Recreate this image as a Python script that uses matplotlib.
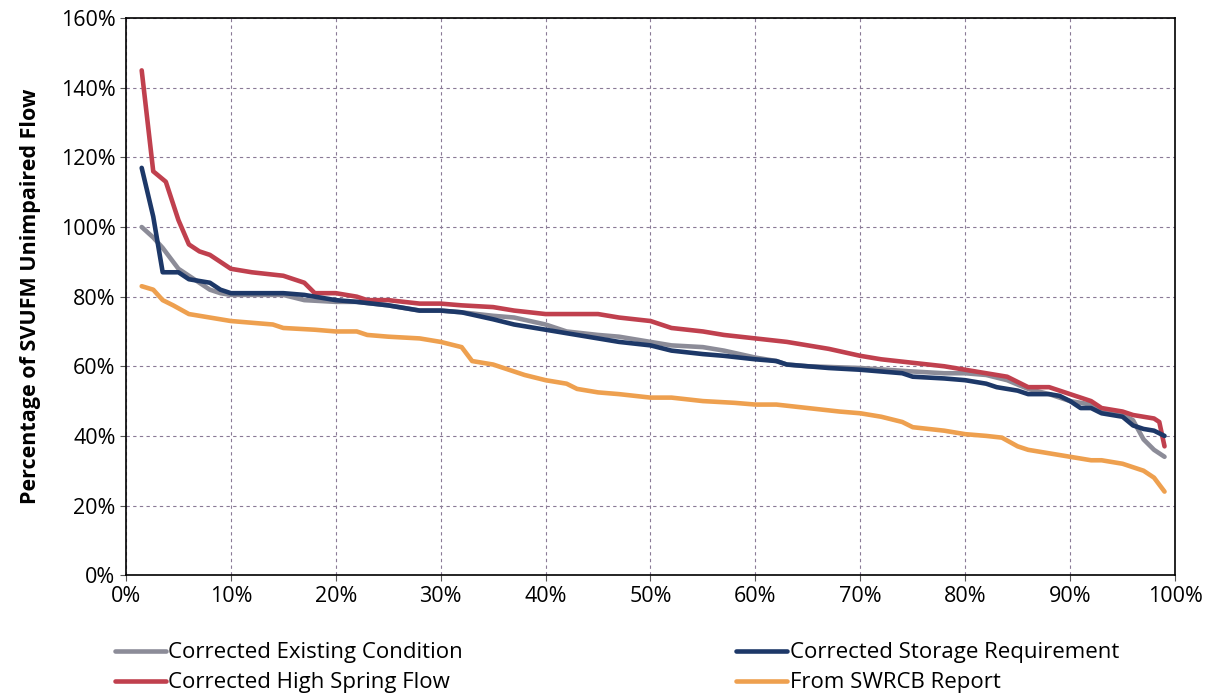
import matplotlib.pyplot as plt
from matplotlib.ticker import FuncFormatter, MultipleLocator

# exceedance (% of years) vs. percentage of SVUFM unimpaired flow
existing_x = [1.5, 2.6, 3.5, 5, 6, 7, 8, 9, 10, 15, 17, 20, 22, 25, 28, 30, 32, 35, 37, 40,
              42, 45, 47, 50, 52, 55, 57, 60, 62, 63, 65, 70, 75, 78, 80, 82, 84, 86, 88, 90,
              92, 93, 95, 96, 97, 98, 99]
existing_y = [100, 97, 94, 88, 86, 84, 82, 81, 80.5, 80.5, 79, 78.5, 78.5, 77.5, 76, 76, 75.5,
              74.5, 74, 72, 70, 69, 68.5, 67, 66, 65.5, 64.5, 62.5, 61.5, 60.5, 60, 59.5, 58.5,
              58, 58, 57.5, 56, 53.5, 52, 50, 49, 47, 46, 44.5, 39, 36, 34]

storage_x = [1.5, 2.6, 3.5, 5, 6, 8, 9, 10, 12, 15, 17, 18, 20, 22, 25, 28, 30, 32, 35, 37,
             40, 42, 45, 47, 50, 52, 55, 57, 60, 62, 63, 65, 67, 70, 72, 74, 75, 78, 80, 82,
             83, 84, 85, 86, 88, 89, 90, 91, 92, 93, 95, 96, 97, 98, 99]
storage_y = [117, 103, 87, 87, 85, 84, 82, 81, 81, 81, 80.5, 80, 79, 78.5, 77.5, 76, 76, 75.5,
             73.5, 72, 70.5, 69.5, 68, 67, 66, 64.5, 63.5, 63, 62, 61.5, 60.5, 60, 59.5, 59,
             58.5, 58, 57, 56.5, 56, 55, 54, 53.5, 53, 52, 52, 51.5, 50, 48, 48, 46.5, 45.5,
             43, 42, 41.5, 40]

spring_x = [1.5, 2.6, 3.8, 5, 6, 7, 8, 9, 10, 12, 15, 17, 18, 20, 22, 23, 25, 28, 30, 32, 35,
            37, 40, 42, 45, 47, 50, 52, 55, 57, 60, 63, 65, 67, 70, 72, 75, 78, 80, 82, 84, 86,
            88, 90, 92, 93, 95, 96, 98, 98.5, 99]
spring_y = [145, 116, 113, 102, 95, 93, 92, 90, 88, 87, 86, 84, 81, 81, 80, 79, 79, 78, 78,
            77.5, 77, 76, 75, 75, 75, 74, 73, 71, 70, 69, 68, 67, 66, 65, 63, 62, 61, 60, 59,
            58, 57, 54, 54, 52, 50, 48, 47, 46, 45, 44, 37]

swrcb_x = [1.5, 2.6, 3.5, 4.5, 6, 8, 10, 12, 14, 15, 18, 20, 22, 23, 25, 28, 30, 32, 33, 35,
           37, 38, 40, 42, 43, 45, 47, 50, 52, 55, 58, 60, 62, 65, 68, 70, 72, 74, 75, 78, 80,
           82, 83.5, 85, 86, 88, 90, 92, 93, 95, 96, 97, 98, 99]
swrcb_y = [83, 82, 79, 77.5, 75, 74, 73, 72.5, 72, 71, 70.5, 70, 70, 69, 68.5, 68, 67, 65.5,
           61.5, 60.5, 58.5, 57.5, 56, 55, 53.5, 52.5, 52, 51, 51, 50, 49.5, 49, 49, 48, 47,
           46.5, 45.5, 44, 42.5, 41.5, 40.5, 40, 39.5, 37, 36, 35, 34, 33, 33, 32, 31, 30, 28,
           24]

series = [
    ("Corrected Existing Condition", existing_x, existing_y, "#8c8c98"),
    ("Corrected High Spring Flow", spring_x, spring_y, "#c0404e"),
    ("Corrected Storage Requirement", storage_x, storage_y, "#1d3868"),
    ("From SWRCB Report", swrcb_x, swrcb_y, "#eea04f"),
]
draw_order = [0, 3, 1, 2]

plt.rcParams["font.family"] = ["Open Sans", "DejaVu Sans"]

fig = plt.figure(figsize=(12.17, 6.98), dpi=100)
ax = fig.add_axes([0.1035, 0.176, 0.862, 0.798])

lines = {}
for i in draw_order:
    label, xs, ys, color = series[i]
    (ln,) = ax.plot(xs, ys, color=color, linewidth=3.3, label=label, solid_capstyle="round")
    lines[i] = ln

ax.set_xlim(0, 100)
ax.set_ylim(0, 160)
ax.xaxis.set_major_locator(MultipleLocator(10))
ax.yaxis.set_major_locator(MultipleLocator(20))
pct = FuncFormatter(lambda v, _: f"{v:.0f}%")
ax.xaxis.set_major_formatter(pct)
ax.yaxis.set_major_formatter(pct)
ax.tick_params(labelsize=15.5, length=4, color="#555555")
ax.grid(True, color="#8a7a96", linestyle=(0, (3, 3)), linewidth=0.8)
for sp in ax.spines.values():
    sp.set_color("black")
    sp.set_linewidth(1.2)
ax.set_ylabel("Percentage of SVUFM Unimpaired Flow", fontsize=15.5, fontweight="bold",
              labelpad=14)

fig.legend(
    [lines[i] for i in range(4)],
    [series[i][0] for i in range(4)],
    loc="lower left",
    bbox_to_anchor=(0.078, -0.022),
    ncol=2,
    frameon=False,
    fontsize=16,
    handlelength=2.3,
    handletextpad=0.1,
    columnspacing=12.3,
    labelspacing=0.4,
)

fig.savefig("out.png", dpi=100)
